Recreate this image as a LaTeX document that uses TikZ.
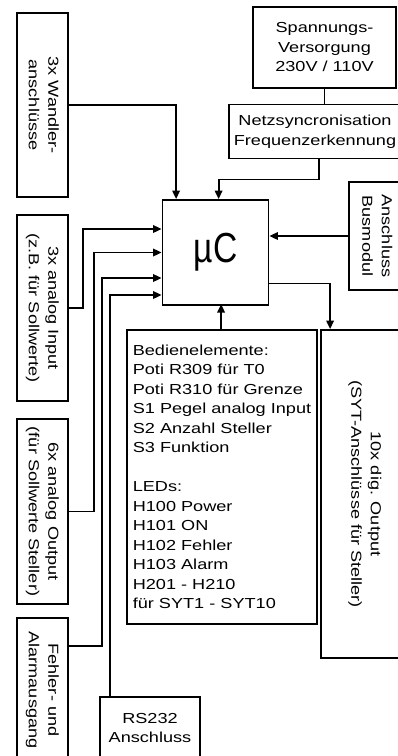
\documentclass[tikz,border=0pt]{standalone}
\usepackage{fontspec}
\setmainfont{Liberation Sans}[FakeStretch=1.25]
\usepackage{graphicx}
\usetikzlibrary{arrows.meta}

\newcommand{\sidetext}[1]{\rotatebox{-90}{\begin{tabular}{@{}c@{}}#1\end{tabular}}}

\begin{document}
\begin{tikzpicture}[x=1pt, y=-1pt,
  block/.style={draw, line width=1.8pt, inner sep=0pt, align=center, font=\fontsize{14.5}{19.5}\selectfont},
  link/.style={-{Triangle[length=8.5pt,width=7.5pt]}, line width=1.8pt},
  wire/.style={line width=1.8pt}
]
\useasboundingbox (0,0) rectangle (398,756);
\clip (0,0) rectangle (398,756);

\node[block, minimum width=51pt, minimum height=184pt] (wandler) at (42.5,105) {\sidetext{3x Wandler-\\anschlüsse}};
\node[block, minimum width=51pt, minimum height=186pt] (ainput) at (42.5,308) {\sidetext{3x analog Input\\(z.B. für Sollwerte)}};
\node[block, minimum width=51pt, minimum height=185pt] (aoutput) at (42.5,511.5) {\sidetext{6x analog Output\\(für Sollwerte Steller)}};
\node[block, minimum width=51pt, minimum height=144pt] (fehler) at (42.5,690) {\sidetext{Fehler- und\\Alarmausgang}};

\node[block, minimum width=143pt, minimum height=81pt] (spannung) at (324.5,47.5) {Spannungs-\\Versorgung\\230V / 110V};
\node[block, minimum width=172pt, minimum height=54pt] (netz) at (315,131.5) {Netzsyncronisation\\Frequenzerkennung};
\node[block, minimum width=106pt, minimum height=105pt] (uc) at (215.5,252.5) {\scalebox{0.64}[1]{\fontsize{42}{42}\selectfont µC}};
\node[block, minimum width=54pt, minimum height=108pt] (bus) at (376,236) {\sidetext{Anschluss\\Busmodul}};

\node[block, align=left, minimum width=190pt, minimum height=294pt] (bedien) at (222,477)
  {Bedienelemente:\\Poti R309 für T0\\Poti R310 für Grenze\\S1 Pegel analog Input\\S2 Anzahl Steller\\S3 Funktion\\[19.5pt]LEDs:\\H100 Power\\H101 ON\\H102 Fehler\\H103 Alarm\\H201 - H210\\für SYT1 - SYT10};
\node[block, minimum width=88pt, minimum height=328pt] (dig) at (365,494) {\sidetext{10x dig. Output\\(SYT-Anschlüsse für Steller)}};
\node[block, minimum width=100pt, minimum height=62pt] (rs232) at (150,728) {RS232\\Anschluss};

\draw[link] (wandler.east) -| ([xshift=14.5pt]uc.north west);
\draw[wire] (spannung.south) -- (spannung.south |- netz.north);
\draw[link] ([xshift=91pt]netz.south west) -- ++(0,20) -| ([xshift=57pt]uc.north west);
\draw[link] (bus.west) -- (bus.west -| uc.east);
\draw[link] ([yshift=-31pt]uc.east) -| ([xshift=10pt]dig.north west);
\draw[link] ([xshift=95pt]bedien.north west) -- ++(0,-25);
\draw[link] (ainput.east) -- ++(14,0) |- ([yshift=23.5pt]uc.west);
\draw[link] (aoutput.east) -- ++(25,0) |- (uc.west);
\draw[link] ([yshift=44pt]fehler.east) -- ++(33,0) |- ([yshift=-25.5pt]uc.west);
\draw[link] ([xshift=11pt]rs232.north west) |- ([yshift=-42.5pt]uc.west);
\end{tikzpicture}
\end{document}
